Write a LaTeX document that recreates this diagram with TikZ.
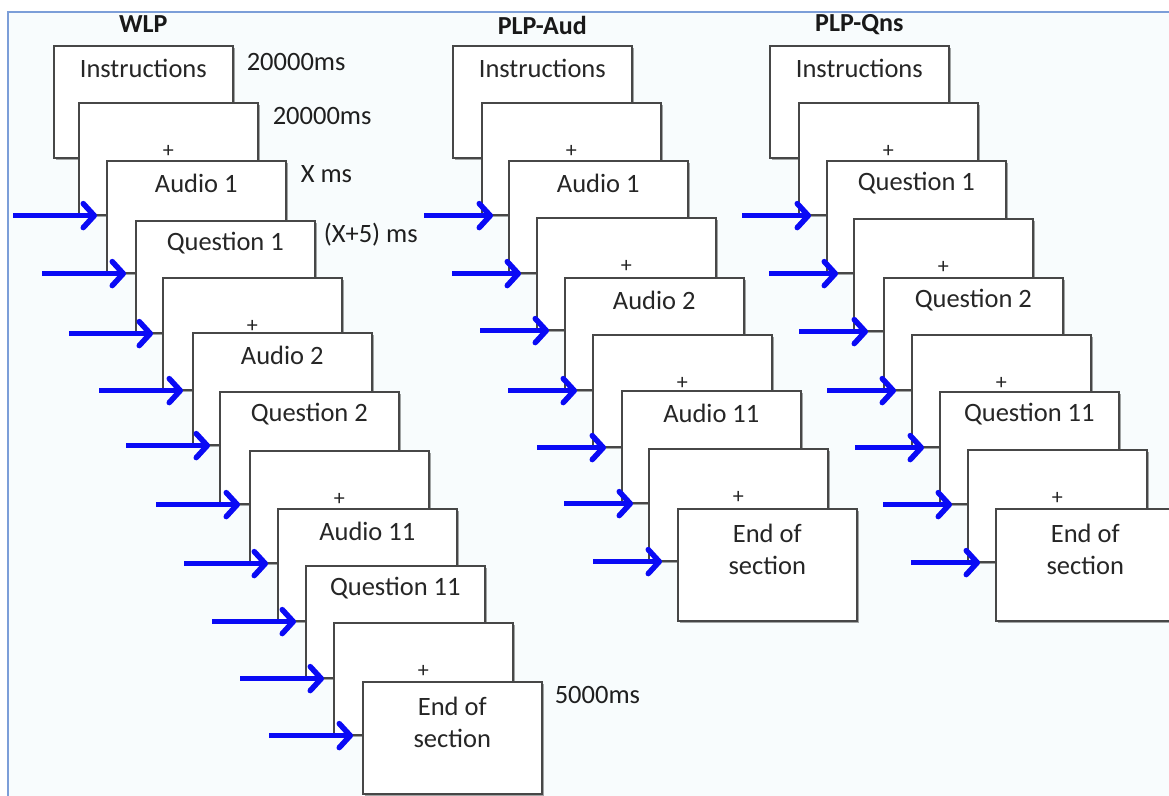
\documentclass[tikz,border=0pt]{standalone}
\usepackage{fontspec}
\setmainfont{Carlito}
\usetikzlibrary{arrows.meta,shadows}

\definecolor{frameblue}{HTML}{7C9ED8}
\definecolor{pane}{HTML}{F8FCFD}
\definecolor{cueblue}{HTML}{0A0AF5}

\tikzset{
  slide/.style={draw=black!72, fill=white, line width=1.6pt, anchor=north west,
    minimum width=179pt, minimum height=112pt, inner sep=0pt,
    drop shadow={shadow xshift=2.5pt, shadow yshift=-2.5pt, opacity=.35, fill=black}},
  slidetext/.style={anchor=center, yshift=-23pt, text=black!85},
  plus/.style={anchor=center, yshift=-49pt, text=black!85, font=\fontsize{22}{24}\selectfont},
  endtext/.style={anchor=center, yshift=-41pt, align=center, text=black!85},
  timing/.style={anchor=west, inner sep=1pt, text=black!88},
  heading/.style={text=black!90, font=\fontsize{26}{30}\selectfont\bfseries},
}

\begin{document}
\begin{tikzpicture}[x=1pt, y=-1pt, font=\fontsize{26.5}{32}\selectfont]
  \useasboundingbox (0,0) rectangle (1169,795);
  \draw[draw=frameblue, fill=pane, line width=1.5pt] (8,12) rectangle (1200,830);

  % WLP
  \node[slide, label={[slidetext]north:Instructions}] (w1) at (53,45) {};
  \node[slide, label={[plus]north:+}] (w2) at (78,102) {};
  \node[slide, label={[slidetext]north:Audio 1}] (w3) at (106,160) {};
  \node[slide, label={[slidetext]north:Question 1}] (w4) at (135,220) {};
  \node[slide, label={[plus]north:+}] (w5) at (162,277) {};
  \node[slide, label={[slidetext]north:Audio 2}] (w6) at (192,332) {};
  \node[slide, label={[slidetext]north:Question 2}] (w7) at (219,391) {};
  \node[slide, label={[plus]north:+}] (w8) at (249,450) {};
  \node[slide, label={[slidetext]north:Audio 11}] (w9) at (277,508) {};
  \node[slide, label={[slidetext]north:Question 11}] (w10) at (305,565) {};
  \node[slide, label={[plus]north:+}] (w11) at (333,622) {};
  \node[slide, label={[endtext]north:{End of\\section}}] (w12) at (362,681) {};

  % PLP-Aud
  \node[slide, label={[slidetext]north:Instructions}] (a1) at (452,45) {};
  \node[slide, label={[plus]north:+}] (a2) at (481,102) {};
  \node[slide, label={[slidetext]north:Audio 1}] (a3) at (508,160) {};
  \node[slide, label={[plus]north:+}] (a4) at (536,217) {};
  \node[slide, label={[slidetext]north:Audio 2}] (a5) at (564,277) {};
  \node[slide, label={[plus]north:+}] (a6) at (592,334) {};
  \node[slide, label={[slidetext]north:Audio 11}] (a7) at (621,390) {};
  \node[slide, label={[plus]north:+}] (a8) at (648,448) {};
  \node[slide, label={[endtext]north:{End of\\section}}] (a9) at (677,508) {};

  % PLP-Qns
  \node[slide, label={[slidetext]north:Instructions}] (q1) at (769,45) {};
  \node[slide, label={[plus]north:+}] (q2) at (798,102) {};
  \node[slide, label={[slidetext]north:Question 1}] (q3) at (826,160) {};
  \node[slide, label={[plus]north:+}] (q4) at (853,218) {};
  \node[slide, label={[slidetext]north:Question 2}] (q5) at (883,277) {};
  \node[slide, label={[plus]north:+}] (q6) at (911,334) {};
  \node[slide, label={[slidetext]north:Question 11}] (q7) at (939,391) {};
  \node[slide, label={[plus]north:+}] (q8) at (967,449) {};
  \node[slide, label={[endtext]north:{End of\\section}}] (q9) at (995,508) {};

  % headings and timings
  \node[heading] (wlp) at ([yshift=21pt]w1.north) {WLP};
  \node[heading] (aud) at ([yshift=20pt]a1.north) {PLP-Aud};
  \node[heading] (qns) at ([yshift=20pt]q1.north) {PLP-Qns};
  \node[timing] (t1) at ([xshift=12pt,yshift=-17pt]w1.north east) {20000ms};
  \node[timing] (t2) at ([xshift=13pt,yshift=-14pt]w2.north east) {20000ms};
  \node[timing] (t3) at ([xshift=13pt,yshift=-14pt]w3.north east) {X ms};
  \node[timing] (t4) at ([xshift=7pt,yshift=-15pt]w4.north east) {(X+5) ms};
  \node[timing] (t12) at ([xshift=11pt,yshift=-14pt]w12.north east) {5000ms};

  \begin{scope}[cueblue, line width=5.5pt, -{Straight Barb[length=11pt,width=24pt,round]}, shorten >=9pt]
    \draw ([xshift=-93pt]w3.west |- w2.south) -- (w3.west |- w2.south);
    \draw ([xshift=-93pt]w4.west |- w3.south) -- (w4.west |- w3.south);
    \draw ([xshift=-93pt]w5.west |- w4.south) -- (w5.west |- w4.south);
    \draw ([xshift=-93pt]w6.west |- w5.south) -- (w6.west |- w5.south);
    \draw ([xshift=-93pt]w7.west |- w6.south) -- (w7.west |- w6.south);
    \draw ([xshift=-93pt]w8.west |- w7.south) -- (w8.west |- w7.south);
    \draw ([xshift=-93pt]w9.west |- w8.south) -- (w9.west |- w8.south);
    \draw ([xshift=-93pt]w10.west |- w9.south) -- (w10.west |- w9.south);
    \draw ([xshift=-93pt]w11.west |- w10.south) -- (w11.west |- w10.south);
    \draw ([xshift=-93pt]w12.west |- w11.south) -- (w12.west |- w11.south);
  \end{scope}
  \begin{scope}[cueblue, line width=5.5pt, -{Straight Barb[length=11pt,width=24pt,round]}, shorten >=15pt]
    \draw ([xshift=-84pt]a3.west |- a2.south) -- (a3.west |- a2.south);
    \draw ([xshift=-84pt]a4.west |- a3.south) -- (a4.west |- a3.south);
    \draw ([xshift=-84pt]a5.west |- a4.south) -- (a5.west |- a4.south);
    \draw ([xshift=-84pt]a6.west |- a5.south) -- (a6.west |- a5.south);
    \draw ([xshift=-84pt]a7.west |- a6.south) -- (a7.west |- a6.south);
    \draw ([xshift=-84pt]a8.west |- a7.south) -- (a8.west |- a7.south);
    \draw ([xshift=-84pt]a9.west |- a8.south) -- (a9.west |- a8.south);
    \draw ([xshift=-84pt]q3.west |- q2.south) -- (q3.west |- q2.south);
    \draw ([xshift=-84pt]q4.west |- q3.south) -- (q4.west |- q3.south);
    \draw ([xshift=-84pt]q5.west |- q4.south) -- (q5.west |- q4.south);
    \draw ([xshift=-84pt]q6.west |- q5.south) -- (q6.west |- q5.south);
    \draw ([xshift=-84pt]q7.west |- q6.south) -- (q7.west |- q6.south);
    \draw ([xshift=-84pt]q8.west |- q7.south) -- (q8.west |- q7.south);
    \draw ([xshift=-84pt]q9.west |- q8.south) -- (q9.west |- q8.south);
  \end{scope}
\end{tikzpicture}
\end{document}
